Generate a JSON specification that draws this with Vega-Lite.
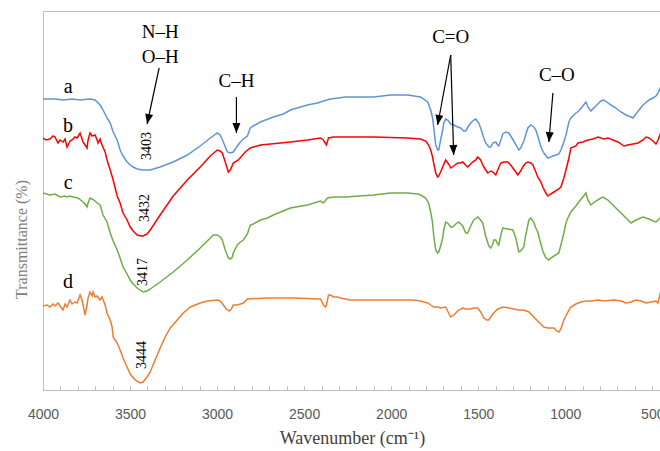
{
"$schema":"https://vega.github.io/schema/vega-lite/v6.json",
"width":618,"height":379,
"autosize":"none",
"padding":{"left":43,"top":11,"right":0,"bottom":61},
"background":"white",
"config":{"view":{"stroke":"#BFBFBF","strokeWidth":1},"font":"Liberation Serif"},
"datasets":{
"spectra":[
{"s":"a","x":4000,"y":291},{"s":"a","x":3931,"y":291},{"s":"a","x":3885,"y":290},{"s":"a","x":3833,"y":291},{"s":"a","x":3787,"y":290},{"s":"a","x":3730,"y":291},{"s":"a","x":3701,"y":290},{"s":"a","x":3672,"y":285},{"s":"a","x":3655,"y":280},{"s":"a","x":3632,"y":272},{"s":"a","x":3614,"y":267},{"s":"a","x":3597,"y":258},{"s":"a","x":3574,"y":250},{"s":"a","x":3557,"y":240},{"s":"a","x":3540,"y":234},{"s":"a","x":3517,"y":228},{"s":"a","x":3499,"y":225},{"s":"a","x":3482,"y":223},{"s":"a","x":3459,"y":221},{"s":"a","x":3425,"y":220},{"s":"a","x":3402,"y":220},{"s":"a","x":3384,"y":220},{"s":"a","x":3327,"y":223},{"s":"a","x":3252,"y":228},{"s":"a","x":3171,"y":235},{"s":"a","x":3097,"y":244},{"s":"a","x":3039,"y":252},{"s":"a","x":2999,"y":257},{"s":"a","x":2982,"y":255},{"s":"a","x":2964,"y":248},{"s":"a","x":2941,"y":238},{"s":"a","x":2924,"y":237},{"s":"a","x":2907,"y":238},{"s":"a","x":2884,"y":244},{"s":"a","x":2866,"y":248},{"s":"a","x":2849,"y":251},{"s":"a","x":2826,"y":254},{"s":"a","x":2809,"y":262},{"s":"a","x":2792,"y":264},{"s":"a","x":2751,"y":268},{"s":"a","x":2677,"y":273},{"s":"a","x":2619,"y":276},{"s":"a","x":2579,"y":280},{"s":"a","x":2481,"y":285},{"s":"a","x":2423,"y":287},{"s":"a","x":2389,"y":289},{"s":"a","x":2349,"y":291},{"s":"a","x":2262,"y":293},{"s":"a","x":2101,"y":293},{"s":"a","x":2003,"y":295},{"s":"a","x":1906,"y":295},{"s":"a","x":1831,"y":293},{"s":"a","x":1790,"y":288},{"s":"a","x":1773,"y":280},{"s":"a","x":1762,"y":272},{"s":"a","x":1756,"y":263},{"s":"a","x":1744,"y":245},{"s":"a","x":1733,"y":240},{"s":"a","x":1727,"y":240},{"s":"a","x":1716,"y":250},{"s":"a","x":1704,"y":260},{"s":"a","x":1698,"y":267},{"s":"a","x":1687,"y":271},{"s":"a","x":1675,"y":270},{"s":"a","x":1658,"y":266},{"s":"a","x":1641,"y":265},{"s":"a","x":1618,"y":263},{"s":"a","x":1601,"y":262},{"s":"a","x":1583,"y":259},{"s":"a","x":1572,"y":259},{"s":"a","x":1555,"y":264},{"s":"a","x":1543,"y":267},{"s":"a","x":1526,"y":270},{"s":"a","x":1514,"y":271},{"s":"a","x":1497,"y":267},{"s":"a","x":1486,"y":262},{"s":"a","x":1468,"y":252},{"s":"a","x":1457,"y":247},{"s":"a","x":1439,"y":243},{"s":"a","x":1428,"y":243},{"s":"a","x":1416,"y":247},{"s":"a","x":1399,"y":248},{"s":"a","x":1388,"y":245},{"s":"a","x":1382,"y":244},{"s":"a","x":1370,"y":250},{"s":"a","x":1359,"y":256},{"s":"a","x":1342,"y":258},{"s":"a","x":1324,"y":257},{"s":"a","x":1313,"y":254},{"s":"a","x":1296,"y":249},{"s":"a","x":1273,"y":242},{"s":"a","x":1267,"y":240},{"s":"a","x":1256,"y":242},{"s":"a","x":1238,"y":249},{"s":"a","x":1215,"y":262},{"s":"a","x":1198,"y":265},{"s":"a","x":1181,"y":263},{"s":"a","x":1169,"y":260},{"s":"a","x":1158,"y":254},{"s":"a","x":1140,"y":243},{"s":"a","x":1123,"y":237},{"s":"a","x":1100,"y":232},{"s":"a","x":1083,"y":233},{"s":"a","x":1071,"y":234},{"s":"a","x":1054,"y":235},{"s":"a","x":1037,"y":236},{"s":"a","x":1025,"y":240},{"s":"a","x":1008,"y":248},{"s":"a","x":996,"y":255},{"s":"a","x":979,"y":268},{"s":"a","x":968,"y":272},{"s":"a","x":939,"y":277},{"s":"a","x":922,"y":279},{"s":"a","x":899,"y":284},{"s":"a","x":881,"y":288},{"s":"a","x":870,"y":283},{"s":"a","x":853,"y":279},{"s":"a","x":824,"y":284},{"s":"a","x":795,"y":289},{"s":"a","x":778,"y":290},{"s":"a","x":737,"y":285},{"s":"a","x":709,"y":282},{"s":"a","x":680,"y":278},{"s":"a","x":651,"y":275},{"s":"a","x":622,"y":273},{"s":"a","x":611,"y":272},{"s":"a","x":594,"y":276},{"s":"a","x":576,"y":280},{"s":"a","x":553,"y":285},{"s":"a","x":519,"y":290},{"s":"a","x":496,"y":292},{"s":"a","x":479,"y":294},{"s":"a","x":467,"y":297},{"s":"a","x":450,"y":304},
{"s":"b","x":4000,"y":252},{"s":"b","x":3983,"y":250},{"s":"b","x":3960,"y":251},{"s":"b","x":3942,"y":254},{"s":"b","x":3931,"y":253},{"s":"b","x":3914,"y":247},{"s":"b","x":3902,"y":250},{"s":"b","x":3885,"y":248},{"s":"b","x":3873,"y":251},{"s":"b","x":3862,"y":243},{"s":"b","x":3845,"y":249},{"s":"b","x":3833,"y":250},{"s":"b","x":3816,"y":253},{"s":"b","x":3804,"y":252},{"s":"b","x":3787,"y":257},{"s":"b","x":3770,"y":248},{"s":"b","x":3758,"y":245},{"s":"b","x":3747,"y":242},{"s":"b","x":3741,"y":250},{"s":"b","x":3730,"y":257},{"s":"b","x":3718,"y":254},{"s":"b","x":3701,"y":255},{"s":"b","x":3689,"y":250},{"s":"b","x":3684,"y":247},{"s":"b","x":3672,"y":251},{"s":"b","x":3661,"y":245},{"s":"b","x":3643,"y":238},{"s":"b","x":3632,"y":230},{"s":"b","x":3614,"y":220},{"s":"b","x":3597,"y":210},{"s":"b","x":3574,"y":194},{"s":"b","x":3557,"y":187},{"s":"b","x":3540,"y":177},{"s":"b","x":3517,"y":170},{"s":"b","x":3499,"y":163},{"s":"b","x":3482,"y":159},{"s":"b","x":3459,"y":155},{"s":"b","x":3436,"y":154},{"s":"b","x":3425,"y":154},{"s":"b","x":3402,"y":156},{"s":"b","x":3384,"y":160},{"s":"b","x":3327,"y":175},{"s":"b","x":3252,"y":194},{"s":"b","x":3171,"y":210},{"s":"b","x":3097,"y":223},{"s":"b","x":3039,"y":234},{"s":"b","x":2999,"y":240},{"s":"b","x":2982,"y":239},{"s":"b","x":2970,"y":237},{"s":"b","x":2953,"y":228},{"s":"b","x":2935,"y":218},{"s":"b","x":2924,"y":220},{"s":"b","x":2907,"y":227},{"s":"b","x":2878,"y":230},{"s":"b","x":2838,"y":238},{"s":"b","x":2809,"y":242},{"s":"b","x":2751,"y":245},{"s":"b","x":2579,"y":248},{"s":"b","x":2481,"y":250},{"s":"b","x":2406,"y":252},{"s":"b","x":2389,"y":250},{"s":"b","x":2372,"y":245},{"s":"b","x":2360,"y":252},{"s":"b","x":2331,"y":253},{"s":"b","x":2262,"y":253},{"s":"b","x":2101,"y":253},{"s":"b","x":1906,"y":252},{"s":"b","x":1831,"y":251},{"s":"b","x":1802,"y":249},{"s":"b","x":1785,"y":245},{"s":"b","x":1773,"y":240},{"s":"b","x":1762,"y":233},{"s":"b","x":1756,"y":227},{"s":"b","x":1744,"y":217},{"s":"b","x":1733,"y":213},{"s":"b","x":1727,"y":214},{"s":"b","x":1716,"y":218},{"s":"b","x":1704,"y":223},{"s":"b","x":1687,"y":230},{"s":"b","x":1670,"y":226},{"s":"b","x":1658,"y":222},{"s":"b","x":1641,"y":224},{"s":"b","x":1618,"y":227},{"s":"b","x":1601,"y":227},{"s":"b","x":1589,"y":228},{"s":"b","x":1572,"y":225},{"s":"b","x":1560,"y":223},{"s":"b","x":1543,"y":226},{"s":"b","x":1532,"y":228},{"s":"b","x":1514,"y":230},{"s":"b","x":1503,"y":233},{"s":"b","x":1486,"y":230},{"s":"b","x":1474,"y":225},{"s":"b","x":1457,"y":220},{"s":"b","x":1445,"y":217},{"s":"b","x":1428,"y":219},{"s":"b","x":1416,"y":218},{"s":"b","x":1399,"y":215},{"s":"b","x":1388,"y":220},{"s":"b","x":1370,"y":227},{"s":"b","x":1353,"y":228},{"s":"b","x":1330,"y":228},{"s":"b","x":1313,"y":225},{"s":"b","x":1301,"y":222},{"s":"b","x":1284,"y":218},{"s":"b","x":1273,"y":215},{"s":"b","x":1256,"y":219},{"s":"b","x":1244,"y":223},{"s":"b","x":1227,"y":227},{"s":"b","x":1215,"y":228},{"s":"b","x":1198,"y":227},{"s":"b","x":1186,"y":225},{"s":"b","x":1169,"y":218},{"s":"b","x":1158,"y":213},{"s":"b","x":1140,"y":208},{"s":"b","x":1129,"y":203},{"s":"b","x":1111,"y":197},{"s":"b","x":1100,"y":194},{"s":"b","x":1083,"y":196},{"s":"b","x":1065,"y":198},{"s":"b","x":1037,"y":201},{"s":"b","x":1025,"y":203},{"s":"b","x":1008,"y":212},{"s":"b","x":996,"y":220},{"s":"b","x":979,"y":232},{"s":"b","x":968,"y":242},{"s":"b","x":939,"y":244},{"s":"b","x":927,"y":247},{"s":"b","x":899,"y":248},{"s":"b","x":870,"y":250},{"s":"b","x":841,"y":251},{"s":"b","x":812,"y":253},{"s":"b","x":778,"y":251},{"s":"b","x":755,"y":252},{"s":"b","x":726,"y":250},{"s":"b","x":697,"y":248},{"s":"b","x":663,"y":244},{"s":"b","x":640,"y":245},{"s":"b","x":611,"y":246},{"s":"b","x":582,"y":247},{"s":"b","x":553,"y":250},{"s":"b","x":536,"y":253},{"s":"b","x":519,"y":252},{"s":"b","x":496,"y":249},{"s":"b","x":479,"y":246},{"s":"b","x":467,"y":250},{"s":"b","x":450,"y":258},
{"s":"c","x":4000,"y":197},{"s":"c","x":3960,"y":195},{"s":"c","x":3931,"y":196},{"s":"c","x":3902,"y":193},{"s":"c","x":3873,"y":194},{"s":"c","x":3862,"y":193},{"s":"c","x":3845,"y":194},{"s":"c","x":3827,"y":193},{"s":"c","x":3799,"y":192},{"s":"c","x":3770,"y":188},{"s":"c","x":3758,"y":186},{"s":"c","x":3747,"y":183},{"s":"c","x":3741,"y":187},{"s":"c","x":3730,"y":192},{"s":"c","x":3718,"y":191},{"s":"c","x":3701,"y":189},{"s":"c","x":3689,"y":187},{"s":"c","x":3672,"y":185},{"s":"c","x":3655,"y":175},{"s":"c","x":3632,"y":168},{"s":"c","x":3614,"y":157},{"s":"c","x":3597,"y":149},{"s":"c","x":3574,"y":140},{"s":"c","x":3557,"y":132},{"s":"c","x":3540,"y":123},{"s":"c","x":3517,"y":116},{"s":"c","x":3499,"y":110},{"s":"c","x":3482,"y":106},{"s":"c","x":3459,"y":102},{"s":"c","x":3442,"y":100},{"s":"c","x":3425,"y":98},{"s":"c","x":3402,"y":99},{"s":"c","x":3384,"y":101},{"s":"c","x":3327,"y":108},{"s":"c","x":3252,"y":118},{"s":"c","x":3171,"y":130},{"s":"c","x":3097,"y":142},{"s":"c","x":3039,"y":152},{"s":"c","x":3022,"y":155},{"s":"c","x":2999,"y":155},{"s":"c","x":2982,"y":153},{"s":"c","x":2970,"y":150},{"s":"c","x":2953,"y":140},{"s":"c","x":2935,"y":132},{"s":"c","x":2924,"y":131},{"s":"c","x":2912,"y":133},{"s":"c","x":2907,"y":137},{"s":"c","x":2884,"y":145},{"s":"c","x":2866,"y":148},{"s":"c","x":2849,"y":150},{"s":"c","x":2826,"y":156},{"s":"c","x":2809,"y":165},{"s":"c","x":2792,"y":166},{"s":"c","x":2751,"y":170},{"s":"c","x":2711,"y":172},{"s":"c","x":2677,"y":175},{"s":"c","x":2579,"y":182},{"s":"c","x":2481,"y":185},{"s":"c","x":2406,"y":189},{"s":"c","x":2389,"y":187},{"s":"c","x":2366,"y":192},{"s":"c","x":2331,"y":193},{"s":"c","x":2262,"y":193},{"s":"c","x":2101,"y":195},{"s":"c","x":2003,"y":197},{"s":"c","x":1906,"y":197},{"s":"c","x":1848,"y":196},{"s":"c","x":1831,"y":195},{"s":"c","x":1802,"y":192},{"s":"c","x":1785,"y":187},{"s":"c","x":1773,"y":178},{"s":"c","x":1762,"y":167},{"s":"c","x":1756,"y":155},{"s":"c","x":1744,"y":140},{"s":"c","x":1733,"y":137},{"s":"c","x":1727,"y":138},{"s":"c","x":1716,"y":144},{"s":"c","x":1704,"y":152},{"s":"c","x":1698,"y":160},{"s":"c","x":1687,"y":168},{"s":"c","x":1670,"y":166},{"s":"c","x":1658,"y":163},{"s":"c","x":1647,"y":163},{"s":"c","x":1629,"y":166},{"s":"c","x":1612,"y":168},{"s":"c","x":1589,"y":164},{"s":"c","x":1572,"y":157},{"s":"c","x":1560,"y":157},{"s":"c","x":1543,"y":164},{"s":"c","x":1526,"y":170},{"s":"c","x":1503,"y":173},{"s":"c","x":1486,"y":170},{"s":"c","x":1474,"y":167},{"s":"c","x":1457,"y":154},{"s":"c","x":1439,"y":144},{"s":"c","x":1428,"y":142},{"s":"c","x":1416,"y":146},{"s":"c","x":1411,"y":150},{"s":"c","x":1399,"y":150},{"s":"c","x":1388,"y":146},{"s":"c","x":1382,"y":145},{"s":"c","x":1370,"y":155},{"s":"c","x":1359,"y":162},{"s":"c","x":1330,"y":161},{"s":"c","x":1301,"y":160},{"s":"c","x":1284,"y":152},{"s":"c","x":1267,"y":138},{"s":"c","x":1256,"y":139},{"s":"c","x":1238,"y":143},{"s":"c","x":1227,"y":155},{"s":"c","x":1209,"y":170},{"s":"c","x":1198,"y":172},{"s":"c","x":1181,"y":168},{"s":"c","x":1169,"y":162},{"s":"c","x":1158,"y":158},{"s":"c","x":1140,"y":146},{"s":"c","x":1129,"y":139},{"s":"c","x":1111,"y":132},{"s":"c","x":1094,"y":130},{"s":"c","x":1083,"y":132},{"s":"c","x":1065,"y":134},{"s":"c","x":1037,"y":137},{"s":"c","x":1025,"y":145},{"s":"c","x":1008,"y":157},{"s":"c","x":996,"y":167},{"s":"c","x":985,"y":172},{"s":"c","x":968,"y":178},{"s":"c","x":939,"y":184},{"s":"c","x":922,"y":188},{"s":"c","x":899,"y":193},{"s":"c","x":881,"y":197},{"s":"c","x":870,"y":190},{"s":"c","x":853,"y":185},{"s":"c","x":824,"y":189},{"s":"c","x":795,"y":192},{"s":"c","x":783,"y":193},{"s":"c","x":755,"y":190},{"s":"c","x":709,"y":182},{"s":"c","x":680,"y":177},{"s":"c","x":651,"y":172},{"s":"c","x":622,"y":167},{"s":"c","x":594,"y":170},{"s":"c","x":553,"y":173},{"s":"c","x":519,"y":171},{"s":"c","x":496,"y":169},{"s":"c","x":479,"y":168},{"s":"c","x":450,"y":173},
{"s":"d","x":4000,"y":84},{"s":"d","x":3977,"y":85},{"s":"d","x":3960,"y":83},{"s":"d","x":3942,"y":86},{"s":"d","x":3931,"y":84},{"s":"d","x":3914,"y":87},{"s":"d","x":3902,"y":84},{"s":"d","x":3885,"y":80},{"s":"d","x":3873,"y":86},{"s":"d","x":3862,"y":83},{"s":"d","x":3845,"y":90},{"s":"d","x":3833,"y":86},{"s":"d","x":3816,"y":88},{"s":"d","x":3804,"y":87},{"s":"d","x":3787,"y":95},{"s":"d","x":3776,"y":90},{"s":"d","x":3758,"y":75},{"s":"d","x":3747,"y":85},{"s":"d","x":3741,"y":92},{"s":"d","x":3730,"y":98},{"s":"d","x":3718,"y":94},{"s":"d","x":3712,"y":98},{"s":"d","x":3701,"y":93},{"s":"d","x":3689,"y":94},{"s":"d","x":3672,"y":90},{"s":"d","x":3661,"y":93},{"s":"d","x":3643,"y":85},{"s":"d","x":3632,"y":77},{"s":"d","x":3614,"y":70},{"s":"d","x":3603,"y":63},{"s":"d","x":3597,"y":53},{"s":"d","x":3574,"y":47},{"s":"d","x":3557,"y":40},{"s":"d","x":3540,"y":32},{"s":"d","x":3517,"y":23},{"s":"d","x":3499,"y":16},{"s":"d","x":3471,"y":10},{"s":"d","x":3442,"y":7},{"s":"d","x":3425,"y":8},{"s":"d","x":3402,"y":13},{"s":"d","x":3384,"y":18},{"s":"d","x":3356,"y":30},{"s":"d","x":3327,"y":42},{"s":"d","x":3298,"y":53},{"s":"d","x":3269,"y":62},{"s":"d","x":3229,"y":70},{"s":"d","x":3194,"y":77},{"s":"d","x":3154,"y":83},{"s":"d","x":3097,"y":87},{"s":"d","x":3056,"y":89},{"s":"d","x":2999,"y":90},{"s":"d","x":2982,"y":89},{"s":"d","x":2964,"y":85},{"s":"d","x":2947,"y":81},{"s":"d","x":2930,"y":79},{"s":"d","x":2918,"y":81},{"s":"d","x":2907,"y":85},{"s":"d","x":2884,"y":85},{"s":"d","x":2866,"y":86},{"s":"d","x":2849,"y":87},{"s":"d","x":2826,"y":91},{"s":"d","x":2711,"y":92},{"s":"d","x":2561,"y":92},{"s":"d","x":2406,"y":91},{"s":"d","x":2389,"y":85},{"s":"d","x":2377,"y":83},{"s":"d","x":2372,"y":85},{"s":"d","x":2360,"y":95},{"s":"d","x":2349,"y":95},{"s":"d","x":2331,"y":93},{"s":"d","x":2308,"y":93},{"s":"d","x":2291,"y":92},{"s":"d","x":2234,"y":90},{"s":"d","x":2101,"y":90},{"s":"d","x":1871,"y":90},{"s":"d","x":1831,"y":89},{"s":"d","x":1813,"y":88},{"s":"d","x":1790,"y":87},{"s":"d","x":1773,"y":85},{"s":"d","x":1756,"y":83},{"s":"d","x":1733,"y":83},{"s":"d","x":1716,"y":82},{"s":"d","x":1687,"y":83},{"s":"d","x":1670,"y":77},{"s":"d","x":1658,"y":73},{"s":"d","x":1641,"y":75},{"s":"d","x":1629,"y":77},{"s":"d","x":1612,"y":80},{"s":"d","x":1589,"y":82},{"s":"d","x":1572,"y":81},{"s":"d","x":1543,"y":81},{"s":"d","x":1526,"y":82},{"s":"d","x":1503,"y":82},{"s":"d","x":1486,"y":78},{"s":"d","x":1468,"y":72},{"s":"d","x":1451,"y":70},{"s":"d","x":1439,"y":70},{"s":"d","x":1428,"y":73},{"s":"d","x":1411,"y":77},{"s":"d","x":1388,"y":81},{"s":"d","x":1353,"y":83},{"s":"d","x":1324,"y":82},{"s":"d","x":1296,"y":81},{"s":"d","x":1267,"y":80},{"s":"d","x":1238,"y":80},{"s":"d","x":1209,"y":78},{"s":"d","x":1181,"y":73},{"s":"d","x":1152,"y":68},{"s":"d","x":1123,"y":63},{"s":"d","x":1100,"y":62},{"s":"d","x":1083,"y":62},{"s":"d","x":1065,"y":62},{"s":"d","x":1048,"y":59},{"s":"d","x":1037,"y":58},{"s":"d","x":1025,"y":61},{"s":"d","x":1008,"y":70},{"s":"d","x":985,"y":78},{"s":"d","x":968,"y":83},{"s":"d","x":939,"y":86},{"s":"d","x":910,"y":88},{"s":"d","x":881,"y":89},{"s":"d","x":853,"y":89},{"s":"d","x":812,"y":90},{"s":"d","x":778,"y":89},{"s":"d","x":720,"y":90},{"s":"d","x":680,"y":89},{"s":"d","x":651,"y":87},{"s":"d","x":622,"y":88},{"s":"d","x":594,"y":90},{"s":"d","x":564,"y":89},{"s":"d","x":536,"y":87},{"s":"d","x":507,"y":88},{"s":"d","x":479,"y":89},{"s":"d","x":467,"y":87},{"s":"d","x":450,"y":100}
],
"letters":[{"t":"a","x":3856,"y":303},{"t":"b","x":3856,"y":264},{"t":"c","x":3856,"y":207},{"t":"d","x":3856,"y":108}],
"notes":[{"t":"N–H","x":3327,"y":358},{"t":"O–H","x":3327,"y":333},{"t":"C–H","x":2889,"y":309},{"t":"C=O","x":1658,"y":353},{"t":"C–O","x":1048,"y":315}],
"peaks":[{"t":"3403","x":3402,"y":244},{"t":"3432","x":3413,"y":182},{"t":"3417","x":3425,"y":118},{"t":"3444","x":3431,"y":35}],
"arrows":[{"id":"NH","x":3402,"y":266,"x2":3333,"y2":322},{"id":"CH","x":2889,"y":257,"x2":2889,"y2":293},{"id":"CO1","x":1733,"y":265,"x2":1658,"y2":335},{"id":"CO2","x":1641,"y":235,"x2":1658,"y2":335},{"id":"CO","x":1094,"y":248,"x2":1071,"y2":297}]
},
"encoding":{
"x":{"field":"x","type":"quantitative","title":"Wavenumber (cm⁻¹)","scale":{"domain":[450,4000],"reverse":true,"nice":false,"zero":false},
"axis":{"values":[4000,3900,3800,3700,3600,3500,3400,3300,3200,3100,3000,2900,2800,2700,2600,2500,2400,2300,2200,2100,2000,1900,1800,1700,1600,1500,1400,1300,1200,1100,1000,900,800,700,600,500],
"format":"d","labelExpr":"datum.value % 500 === 0 ? datum.label : ''","grid":false,"domainColor":"#BFBFBF","tickColor":"#BFBFBF","tickSize":-4,"labelPadding":21,"labelFont":"Liberation Sans","labelFontSize":14,"labelColor":"#595959","labelOverlap":false,"labelFlush":false,
"titleFont":"Liberation Serif","titleFontSize":18,"titleColor":"#404040","titleFontWeight":"normal","titleY":53,"titleBaseline":"alphabetic"}},
"y":{"field":"y","type":"quantitative","title":"Transmittance (%)","scale":{"domain":[0,379],"nice":false,"zero":false},
"axis":{"labels":false,"ticks":false,"grid":false,"domainColor":"#BFBFBF","titleFont":"Liberation Serif","titleFontSize":16,"titleColor":"#7F7F7F","titleFontWeight":"normal","titleX":-22,"titleY":228,"titleAngle":270,"titleAlign":"center","titleBaseline":"middle"}}
},
"layer":[
{"data":{"name":"spectra"},"mark":{"type":"line","strokeWidth":1.5,"clip":true},
"encoding":{"color":{"field":"s","type":"nominal","scale":{"domain":["a","b","c","d"],"range":["#5F95D8","#FF0000","#70AD47","#ED7D31"]},"legend":null}}},
{"data":{"name":"letters"},"mark":{"type":"text","font":"Liberation Serif","fontSize":20,"color":"black","baseline":"middle","align":"center"},"encoding":{"text":{"field":"t"}}},
{"data":{"name":"notes"},"mark":{"type":"text","font":"Liberation Serif","fontSize":19,"color":"black","baseline":"middle","align":"center"},"encoding":{"text":{"field":"t"}}},
{"data":{"name":"peaks"},"mark":{"type":"text","font":"Liberation Serif","fontSize":14,"color":"black","baseline":"middle","align":"center","angle":270},"encoding":{"text":{"field":"t"}}},
{"data":{"name":"arrows"},"mark":{"type":"rule","color":"black","strokeWidth":1.2},"encoding":{"x2":{"field":"x2"},"y2":{"field":"y2"}}},
{"data":{"name":"arrows"},"mark":{"type":"point","filled":true,"color":"black","opacity":1,"size":400,"shape":"M0,0L-0.4,-1L0.4,-1Z"},
"encoding":{"angle":{"condition":[{"test":"datum.id==='NH'","value":12},{"test":"datum.id==='CO1'","value":10},{"test":"datum.id==='CO2'","value":358},{"test":"datum.id==='CO'","value":5}],"value":0}}}
]
}
